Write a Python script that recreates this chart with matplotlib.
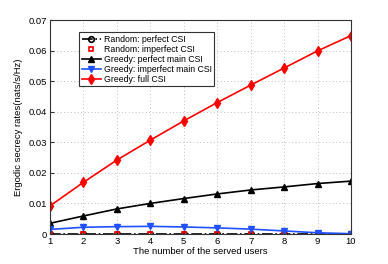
import matplotlib
matplotlib.use("Agg")
import matplotlib.pyplot as plt
import numpy as np

users = [1, 2, 3, 4, 5, 6, 7, 8, 9, 10]
random_perfect = [0, 0, 0, 0, 0, 0, 0, 0, 0, 0]
random_imperfect = [0, 0, 0, 0, 0, 0, 0, 0, 0, 0]
greedy_perfect_main = [0.0035, 0.0059, 0.0082, 0.0100, 0.0116, 0.0131, 0.0144, 0.0154, 0.0165, 0.0173]
greedy_imperfect_main = [0.0015, 0.0022, 0.0024, 0.0025, 0.0023, 0.0020, 0.0016, 0.0010, 0.0004, 0.0001]
greedy_full = [0.0092, 0.0169, 0.0242, 0.0307, 0.0370, 0.0430, 0.0487, 0.0543, 0.0599, 0.0649]

plt.rcParams['font.family'] = ['Liberation Sans', 'DejaVu Sans']

fig = plt.figure(figsize=(3.88, 2.64), dpi=100)
ax = fig.add_axes([50 / 388, 1 - 234 / 264, 301 / 388, 214 / 264])

ax.plot(users, random_perfect, color='black', linestyle='-.', marker='o', mfc='none',
        ms=4, lw=1.2, mew=1.2, label='Random: perfect CSI')
ax.plot(users, random_imperfect, color='red', linestyle='none', marker='s', mfc='none',
        ms=3.5, mew=1.2, label='Random: imperfect CSI')
ax.plot(users, greedy_perfect_main, color='black', marker='^', ms=5, lw=1.2,
        label='Greedy: perfect main CSI')
ax.plot(users, greedy_imperfect_main, color='#2050ff', marker='v', ms=5, lw=1.2,
        label='Greedy: imperfect main CSI')
ax.plot(users, greedy_full, color='red', marker='d', ms=5, lw=1.2,
        label='Greedy: full CSI')

ax.set_xlim(1, 10)
ax.set_ylim(0, 0.07)
ax.set_xticks(users)
ax.set_yticks([0, 0.01, 0.02, 0.03, 0.04, 0.05, 0.06, 0.07])
ax.set_yticklabels(['0', '0.01', '0.02', '0.03', '0.04', '0.05', '0.06', '0.07'])
ax.tick_params(direction='in', labelsize=6.8, length=3, pad=2, colors='#333333', labelcolor='black')
ax.grid(True, linestyle=(0, (1, 2.5)), color='#c0c0c0', lw=0.7)
for s in ax.spines.values():
    s.set_color('#333333')
    s.set_linewidth(0.8)

ax.set_xlabel('The number of the served users', fontsize=6.8, labelpad=1)
ax.set_ylabel('Ergodic secrecy rates(nats/s/Hz)', fontsize=6.8, labelpad=4)

leg = ax.legend(loc='upper left', bbox_to_anchor=(29 / 301, 1 - 12 / 214), fontsize=6.3,
                fancybox=False, framealpha=1, edgecolor='#333333', handlelength=2.2,
                handletextpad=0.3, labelspacing=0.12, borderpad=0.3, borderaxespad=0)
leg.get_frame().set_linewidth(0.8)

fig.savefig('out.png', dpi=100)
